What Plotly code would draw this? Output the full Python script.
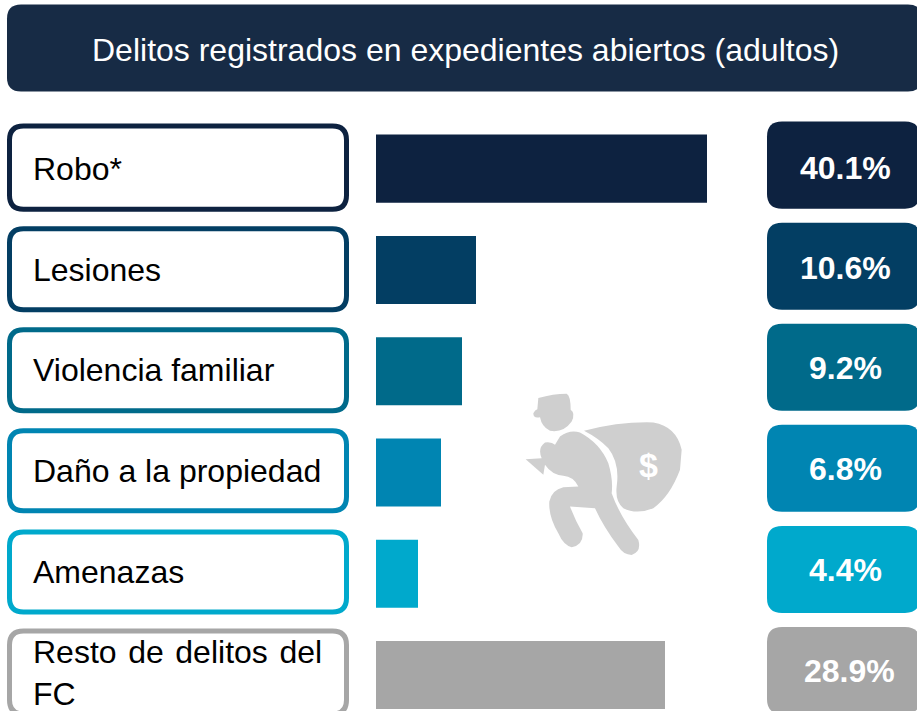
import plotly.graph_objects as go

W, H = 917, 711

title = "Delitos registrados en expedientes abiertos (adultos)"
categories = ["Robo*", "Lesiones", "Violencia familiar", "Daño a la propiedad", "Amenazas", "Resto de delitos del FC"]
label_texts = ["Robo*", "Lesiones", "Violencia familiar", "Daño a la propiedad", "Amenazas",
               "Resto\u00a0\u200ade\u00a0\u200adelitos\u00a0\u200adel<br>FC"]
percent_labels = ["40.1%", "10.6%", "9.2%", "6.8%", "4.4%", "28.9%"]
# Bar lengths as drawn in the picture (the bars are not strictly proportional to the percentages)
bar_lengths = [33.1, 10.0, 8.6, 6.5, 4.2, 28.9]
colors = ["#0D2240", "#033E63", "#006A8A", "#0085B2", "#00A9CC", "#A6A6A6"]

box_tops = [126.5, 229, 330, 431, 532, 631]
box_bottoms = [209.5, 310, 411, 511, 612, 714]
pill_tops = [122, 223, 324, 425, 526, 627]
pill_bottoms = [209, 310, 411, 512, 613, 714]
label_y = [169, 270, 370.5, 471.5, 572.5, 673]
pill_text_y = [168, 268, 368, 469, 570, 671]

PLOT_L, PLOT_R, PLOT_T = 376, 707, 118.4
PITCH = 101.2


def px(x):
    return (x - PLOT_L) / (PLOT_R - PLOT_L)


def py(y):
    return (H - y) / (H - PLOT_T)


def rrect(x0, y0, x1, y1, r):
    pts = [("M", x0 + r, y0), ("L", x1 - r, y0), ("Q", x1, y0, x1, y0 + r), ("L", x1, y1 - r),
           ("Q", x1, y1, x1 - r, y1), ("L", x0 + r, y1), ("Q", x0, y1, x0, y1 - r), ("L", x0, y0 + r),
           ("Q", x0, y0, x0 + r, y0)]
    out = []
    for p in pts:
        c = p[0]
        vals = p[1:]
        coords = []
        for i in range(0, len(vals), 2):
            coords.append(f"{px(vals[i]):.5f},{py(vals[i + 1]):.5f}")
        out.append(c + " ".join(coords))
    return " ".join(out) + " Z"


def icon_path(cmds):
    out = []
    for c, *vals in cmds:
        coords = []
        for i in range(0, len(vals), 2):
            coords.append(f"{px(480 + vals[i] / 3):.5f},{py(370 + vals[i + 1] / 3):.5f}")
        out.append(c + " ".join(coords))
    return " ".join(out) + " Z"


head = [("M", 175, 85), ("Q", 220, 72, 260, 72), ("Q", 272, 78, 272, 120), ("Q", 287, 130, 275, 155),
        ("Q", 250, 190, 210, 183), ("Q", 185, 170, 180, 142), ("Q", 160, 147, 160, 130), ("Q", 165, 120, 172, 118)]
sack = [("M", 312, 183), ("Q", 420, 155, 520, 158), ("Q", 590, 170, 605, 240), ("L", 600, 300),
        ("Q", 570, 380, 520, 415), ("Q", 470, 435, 430, 415), ("Q", 405, 395, 410, 350),
        ("Q", 420, 280, 385, 235), ("Q", 355, 205, 312, 183)]
body = [("M", 240, 200), ("Q", 270, 178, 300, 188), ("Q", 360, 220, 385, 280), ("Q", 400, 330, 395, 370),
        ("Q", 420, 440, 475, 510), ("Q", 485, 545, 455, 555), ("Q", 430, 555, 415, 530),
        ("Q", 370, 470, 345, 415), ("L", 270, 410), ("Q", 285, 450, 308, 490), ("Q", 310, 525, 275, 532),
        ("Q", 250, 525, 235, 490), ("Q", 205, 440, 208, 395), ("Q", 215, 360, 250, 352), ("L", 295, 350),
        ("Q", 280, 320, 250, 318), ("Q", 215, 315, 195, 285), ("L", 190, 315), ("L", 137, 268), ("L", 185, 265),
        ("Q", 172, 235, 195, 218), ("Q", 215, 215, 225, 225)]

shapes = [dict(type="path", xref="paper", yref="paper", path=rrect(7, 5, 922, 92, 14),
               fillcolor="#172B45", line=dict(width=0), layer="below")]
for c, t, b, pt, pb in zip(colors, box_tops, box_bottoms, pill_tops, pill_bottoms):
    shapes.append(dict(type="path", xref="paper", yref="paper", path=rrect(9.5, t, 346.5, b, 14),
                       fillcolor="white", line=dict(width=5, color=c), layer="below"))
    shapes.append(dict(type="path", xref="paper", yref="paper", path=rrect(767, pt, 920, pb, 15),
                       fillcolor=c, line=dict(width=0), layer="below"))
for p in (head, sack, body):
    shapes.append(dict(type="path", xref="paper", yref="paper", path=icon_path(p),
                       fillcolor="#CFCFCF", line=dict(width=0), layer="below"))

FONT = "Liberation Sans, Arial, sans-serif"
annotations = [dict(text=title, x=px(465), y=py(50.5), xref="paper", yref="paper", showarrow=False,
                    xanchor="center", yanchor="middle", font=dict(family=FONT, size=32, color="#FFFFFF")),
               dict(text="<b>$</b>", x=px(648), y=py(465), xref="paper", yref="paper", showarrow=False,
                    xanchor="center", yanchor="middle", font=dict(family=FONT, size=34, color="#FFFFFF"))]
for txt, ly in zip(label_texts, label_y):
    annotations.append(dict(text=txt, x=px(31), y=py(ly), xref="paper", yref="paper", showarrow=False,
                            xanchor="left", yanchor="middle", align="left",
                            font=dict(family=FONT, size=32, color="#000000")))
for txt, ty, xc in zip(percent_labels, pill_text_y, [845, 845, 845, 845, 845, 849]):
    annotations.append(dict(text=f"<b>{txt}</b>", x=px(xc), y=py(ty), xref="paper", yref="paper", showarrow=False,
                            xanchor="center", yanchor="middle",
                            font=dict(family=FONT, size=32, color="#FFFFFF")))

fig = go.Figure(go.Bar(x=bar_lengths, y=categories, orientation="h", marker=dict(color=colors, line=dict(width=0)),
                       width=68 / PITCH, hoverinfo="skip"))
fig.update_layout(
    width=W, height=H, autosize=False,
    margin=dict(l=PLOT_L, r=W - PLOT_R, t=PLOT_T, b=0, pad=0),
    paper_bgcolor="white", plot_bgcolor="rgba(0,0,0,0)", showlegend=False,
    xaxis=dict(range=[0, 33.1], visible=False, fixedrange=True),
    yaxis=dict(range=[(H - 169) / PITCH, -0.5], visible=False, fixedrange=True,
               categoryorder="array", categoryarray=categories),
    shapes=shapes, annotations=annotations,
)
fig.write_html("out.html", config=dict(displayModeBar=False),
               post_script="document.body.style.margin='0';document.body.style.overflow='hidden';")
